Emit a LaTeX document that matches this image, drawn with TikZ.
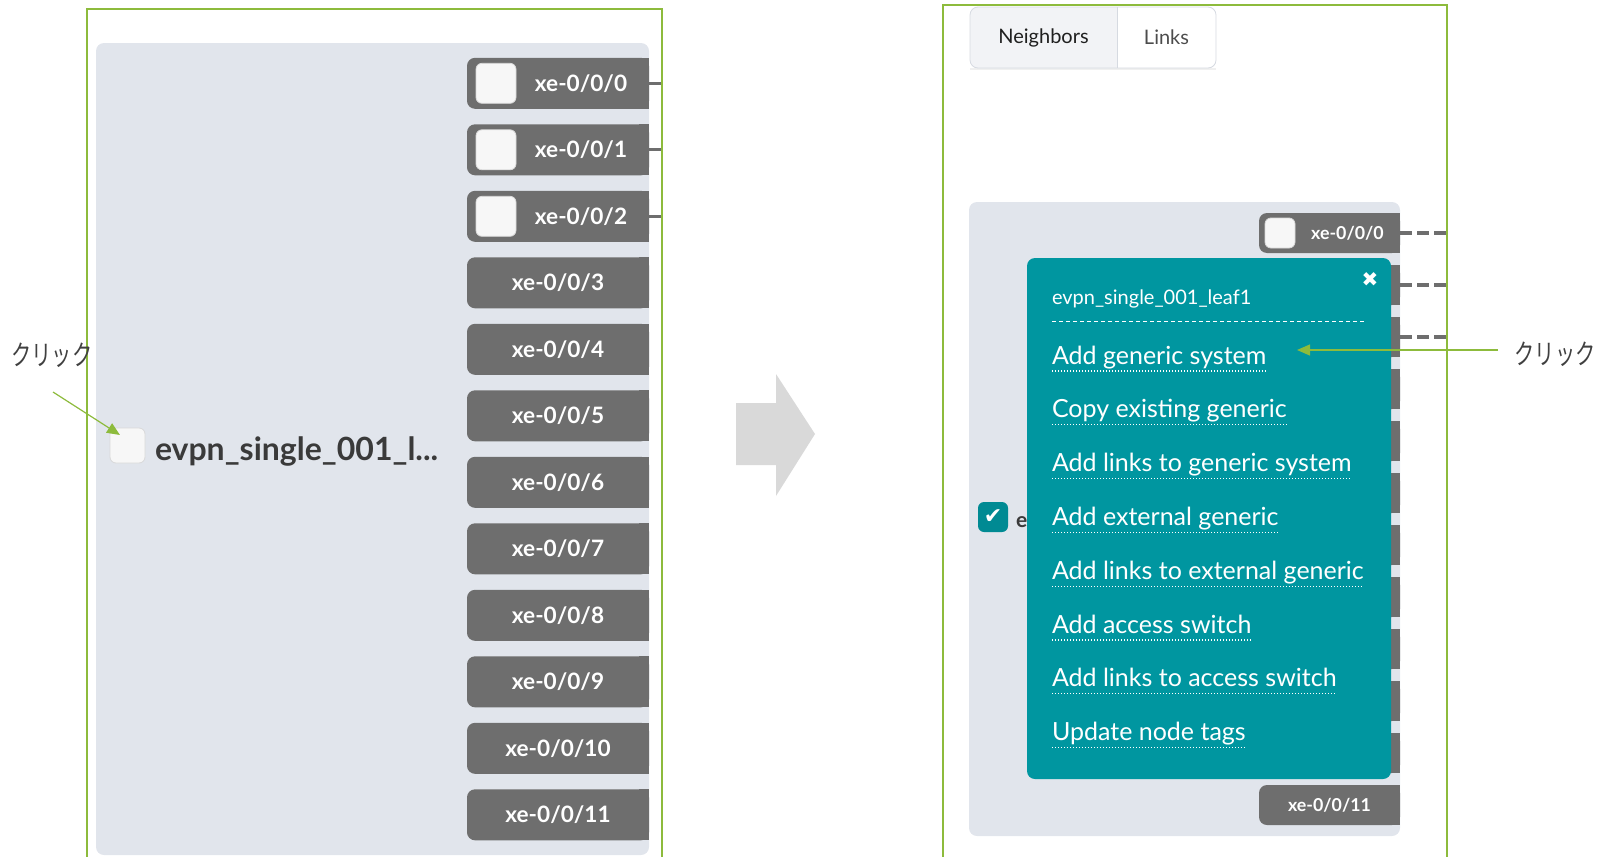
\documentclass[tikz,border=0pt]{standalone}
\usepackage{fontspec}
\setmainfont{Lato}
\newfontfamily\jpfont{Noto Sans CJK JP}
\newfontfamily\symfont{DejaVu Sans}
\usetikzlibrary{positioning,arrows.meta,shadows}

\definecolor{frameGreen}{RGB}{141,187,60}
\definecolor{panelGray}{RGB}{225,229,236}
\definecolor{portGray}{RGB}{110,110,110}
\definecolor{popTeal}{RGB}{0,150,160}
\definecolor{tabGray}{RGB}{242,243,246}
\definecolor{tabLine}{RGB}{214,218,225}
\definecolor{arrowGray}{RGB}{217,217,217}
\definecolor{labelText}{RGB}{58,58,58}

\begin{document}
\begin{tikzpicture}[
    x=0.5pt, y=-0.5pt, outer sep=0pt,
    frame/.style={draw=frameGreen, line width=1pt},
    panel/.style={fill=panelGray, rounded corners=4pt},
    lport/.style={fill=portGray, rounded corners=4pt, text=white, inner sep=0pt, minimum width=91pt, minimum height=25.5pt, font=\fontsize{11.3}{13}\selectfont\bfseries},
    rport/.style={fill=portGray, rounded corners=4pt, text=white, inner sep=0pt, minimum width=70.5pt, minimum height=20pt, font=\fontsize{8.9}{10}\selectfont\bfseries},
    chk/.style={fill=white!97!black, draw=black!15, rounded corners=3pt, inner sep=0pt, minimum size=#1},
    chk/.default=20pt,
    devname/.style={anchor=base west, inner sep=0pt, text=labelText, font=\fontsize{16}{18}\selectfont\bfseries},
    stub/.style={draw=portGray, line width=1.5pt},
    dashlink/.style={draw=portGray, line width=1.6pt, dash pattern=on 6pt off 2.5pt},
    click/.style={draw=frameGreen, line width=0.6pt, -{Triangle[length=6.5pt,width=5.5pt]}},
    jp/.style={text=black!75, font=\jpfont\fontsize{14}{16}\selectfont},
    pop/.style={fill=popTeal, rounded corners=4pt},
    item/.style={text=white, inner sep=0pt, text height=9pt, text depth=3pt, font=\fontsize{12.5}{14}\selectfont},
    uline/.style={draw=white, line width=0.6pt, dash pattern=on 0.6pt off 0.9pt},
    tab/.style={inner sep=0pt, minimum height=30.5pt, font=\fontsize{10}{12}\selectfont}
]
\useasboundingbox (0,0) rectangle (1602,857);

% left view
\fill[panel] (96,43) rectangle (649,855);
\coordinate (lEdge) at (662,0);

\node[lport] (L0) at (558,83.3) {\hspace*{23pt}xe-0/0/0};
\node[lport, below=7.75pt of L0] (L1) {\hspace*{23pt}xe-0/0/1};
\node[lport, below=7.75pt of L1] (L2) {\hspace*{23pt}xe-0/0/2};
\node[lport, below=7.75pt of L2] (L3) {xe-0/0/3};
\node[lport, below=7.75pt of L3] (L4) {xe-0/0/4};
\node[lport, below=7.75pt of L4] (L5) {xe-0/0/5};
\node[lport, below=7.75pt of L5] (L6) {xe-0/0/6};
\node[lport, below=7.75pt of L6] (L7) {xe-0/0/7};
\node[lport, below=7.75pt of L7] (L8) {xe-0/0/8};
\node[lport, below=7.75pt of L8] (L9) {xe-0/0/9};
\node[lport, below=7.75pt of L9] (L10) {xe-0/0/10};
\node[lport, below=7.75pt of L10] (L11) {xe-0/0/11};

\node[chk, right=4.5pt of L0.west] (c0) {};
\node[chk, right=4.5pt of L1.west] (c1) {};
\node[chk, right=4.5pt of L2.west] (c2) {};

\node[chk=17.5pt] (cbig) at (127.5,445.5) {};
\node[devname] (devL) at (155,460) {evpn\_single\_001\_l...};

\draw[stub] (L0.east) -- (L0.east -| lEdge);
\draw[stub] (L1.east) -- (L1.east -| lEdge);
\draw[stub] (L2.east) -- (L2.east -| lEdge);

\draw[frame] (87,857) -- (87,9) -- (662,9) -- (662,857);

% big arrow
\fill[arrowGray] (736,403) -- (776,403) -- (776,374) -- (815,434) -- (776,496) -- (776,465) -- (736,465) -- cycle;

% right view
\fill[white, drop shadow={shadow xshift=0pt, shadow yshift=-1pt, opacity=0.12}] (970,7) rectangle (1216,68);
\node[tab, fill=tabGray, rounded corners=4pt, minimum width=73.5pt, text=black!88] (tabN) at (1043.5,37.5) {Neighbors};
\node[tab, minimum width=49.5pt, right=0pt of tabN, text=black!70] (tabL) {Links};
\fill[tabGray] ([xshift=-4pt]tabN.north east) rectangle (tabN.south east);
\draw[tabLine, rounded corners=4pt] (tabN.north west) rectangle (tabL.south east);
\draw[tabLine] (tabN.north east) -- (tabN.south east);

\fill[panel] (969,202) rectangle (1400,836);
\coordinate (rEdge) at (1447,0);

\node[rport] (R0) at (1329.5,233) {\hspace*{18pt}xe-0/0/0};
\node[rport, below=6pt of R0] (R1) {};
\node[rport, below=6pt of R1] (R2) {};
\node[rport, below=6pt of R2] (R3) {};
\node[rport, below=6pt of R3] (R4) {};
\node[rport, below=6pt of R4] (R5) {};
\node[rport, below=6pt of R5] (R6) {};
\node[rport, below=6pt of R6] (R7) {};
\node[rport, below=6pt of R7] (R8) {};
\node[rport, below=6pt of R8] (R9) {};
\node[rport, below=6pt of R9] (R10) {};
\node[rport, below=6pt of R10] (R11) {xe-0/0/11};

\foreach \i in {0,...,11} {
    \fill[portGray] ([xshift=-5pt]L\i.north east) rectangle (L\i.south east);
    \fill[portGray] ([xshift=-5pt]R\i.north east) rectangle (R\i.south east);
}

\node[chk=15pt, right=3pt of R0.west] (cR0) {};

\draw[dashlink] (R0.east) -- (R0.east -| rEdge);
\draw[dashlink] (R1.east) -- (R1.east -| rEdge);
\draw[dashlink] (R2.east) -- (R2.east -| rEdge);

\node[chk=15pt, fill=popTeal!92!black, draw=none, text=white, font=\symfont\bfseries\fontsize{11}{11}\selectfont] (cbChk) at (993,517) {✔};
\node[devname, font=\fontsize{10.5}{12}\selectfont\bfseries] (devR) at (1016,527) {e};

% popup menu
\node[pop, minimum width=182pt, minimum height=260.5pt] (popup) at (1209,518.5) {};
\node[anchor=base west, inner sep=0pt, text=white, font=\fontsize{10}{12}\selectfont] (title) at (1052,304) {evpn\_single\_001\_leaf1};
\node[text=white, font=\symfont\fontsize{10}{10}\selectfont] (close) at (1370,280) {✖};
\draw[white, line width=0.5pt, dash pattern=on 2pt off 1.5pt] ([yshift=-8.5pt]title.base west) -- ++(314,0);

\node[item, anchor=base west] (m1) at (1052,364) {Add generic system};
\node[item, below=14.9pt of m1.south west, anchor=north west] (m2) {Copy existing generic};
\node[item, below=14.9pt of m2.south west, anchor=north west] (m3) {Add links to generic system};
\node[item, below=14.9pt of m3.south west, anchor=north west] (m4) {Add external generic};
\node[item, below=14.9pt of m4.south west, anchor=north west] (m5) {Add links to external generic};
\node[item, below=14.9pt of m5.south west, anchor=north west] (m6) {Add access switch};
\node[item, below=14.9pt of m6.south west, anchor=north west] (m7) {Add links to access switch};
\node[item, below=14.9pt of m7.south west, anchor=north west] (m8) {Update node tags};
\foreach \i in {1,...,8} {
    \draw[uline] ([yshift=-3.5pt]m\i.base west) -- ([yshift=-3.5pt]m\i.base east);
}

\draw[frame] (943,857) -- (943,5) -- (1447,5) -- (1447,857);

% click hints
\node[jp] (clickL) at (52,355) {\scalebox{0.72}[1]{クリック}};
\node[jp] (clickR) at (1555,354) {\scalebox{0.72}[1]{クリック}};
\coordinate (clickLstart) at (53,392);
\coordinate (clickTip) at (1297,350);
\draw[click] (clickLstart) -- ([xshift=5pt,yshift=-3.5pt]cbig.north west);
\draw[click, shorten <=5pt] (clickTip -| clickR.west) -- (clickTip);

\end{tikzpicture}
\end{document}
